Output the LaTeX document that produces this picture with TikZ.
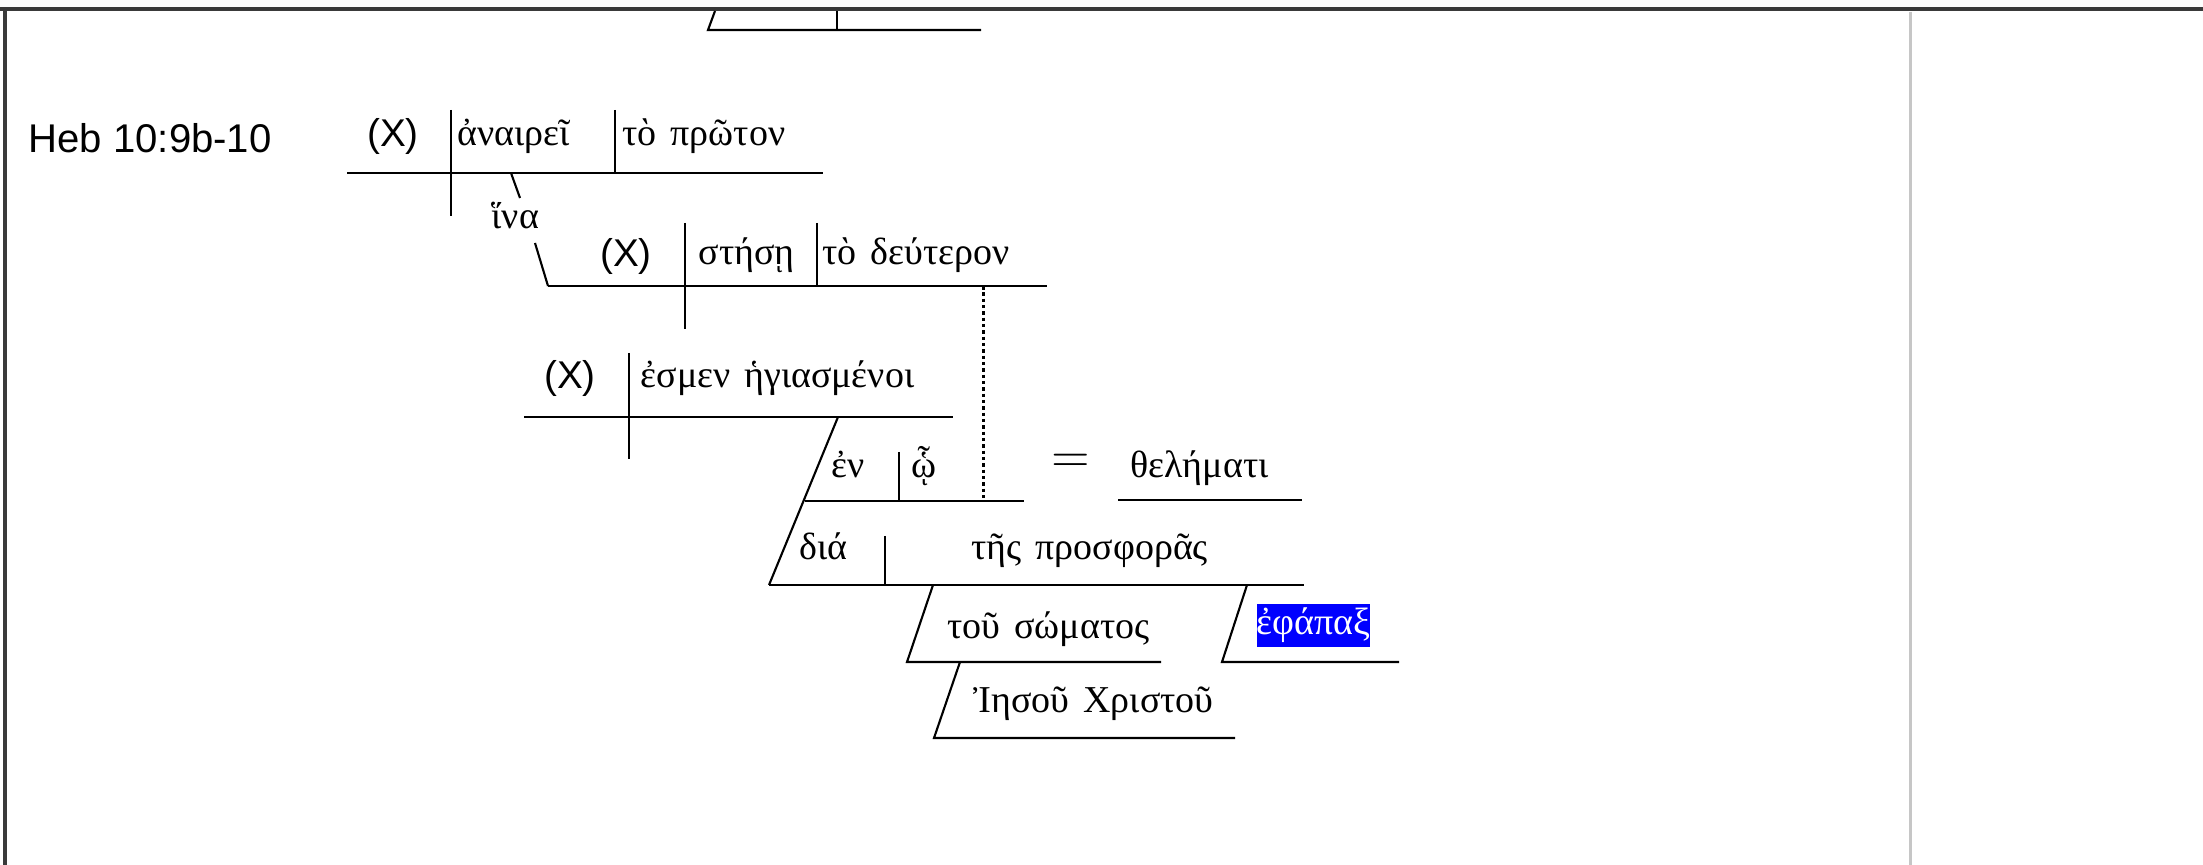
\documentclass[tikz,border=0pt]{standalone}
\usepackage{fontspec}
\setmainfont{Liberation Serif}
\newfontfamily\greekserif[WordSpace=1.45]{Liberation Serif}
\newfontfamily\labelsans{Liberation Sans}
\definecolor{frame}{HTML}{3A3A3A}
\definecolor{sepgray}{HTML}{C6C6C6}
\definecolor{hlblue}{HTML}{0000FF}
\begin{document}
\begin{tikzpicture}[x=0.01cm,y=-0.01cm,
  dline/.style={line width=0.6pt,black},
  dotline/.style={line width=0.85pt,black,dash pattern=on 1pt off 0.8pt},
  gk/.style={inner sep=0pt,anchor=base west,font=\greekserif\fontsize{10.8}{12}\selectfont},
  xsub/.style={inner sep=0pt,anchor=base,font=\labelsans\fontsize{11}{13}\selectfont},
  reflabel/.style={inner sep=0pt,anchor=base west,font=\labelsans\fontsize{11.4}{13}\selectfont},
  hlbox/.style={fill=hlblue,text=white,inner sep=0pt,minimum width=1.11cm,minimum height=0.43cm,font=\greekserif\fontsize{10.8}{12}\selectfont}]
\useasboundingbox (0,0) rectangle (2203,865);
% frame
\draw[frame,line width=1.3pt] (0,9) -- (2203,9);
\draw[frame,line width=1.3pt] (5,9) -- (5,865);
\draw[sepgray,line width=0.85pt] (1910,12) -- (1910,865);
% top fragment
\coordinate (f1) at (715,11); \coordinate (f2) at (708,30); \coordinate (f3) at (981,30);
\coordinate (f4) at (837,11); \coordinate (f5) at (837,30);
\draw[dline] (f1) -- (f2) -- (f3);
\draw[dline] (f4) -- (f5);
% label
\node[reflabel] (lab) at (28,153) {Heb 10:9b-10};
% clause 1
\coordinate (a1) at (347,173); \coordinate (a2) at (823,173);
\coordinate (a3) at (451,110); \coordinate (a4) at (451,216);
\coordinate (a5) at (615,110); \coordinate (a6) at (615,173);
\draw[dline] (a1) -- (a2);
\draw[dline] (a3) -- (a4);
\draw[dline] (a5) -- (a6);
\node[xsub] (x1) at (393,147) {(X)};
\node[gk] (v1) at (457,146) {ἀναιρεῖ};
\node[gk] (o1) at (622,146) {τὸ πρῶτον};
% hina connector
\coordinate (h1) at (511,173); \coordinate (h2) at (520,198);
\coordinate (h3) at (535,243); \coordinate (h4) at (548,286);
\draw[dline] (h1) -- (h2);
\draw[dline] (h3) -- (h4);
\node[gk] (hina) at (491,229) {ἵνα};
% clause 2
\coordinate (b1) at (548,286); \coordinate (b2) at (1047,286);
\coordinate (b3) at (685,223); \coordinate (b4) at (685,329);
\coordinate (b5) at (817,223); \coordinate (b6) at (817,286);
\draw[dline] (b1) -- (b2);
\draw[dline] (b3) -- (b4);
\draw[dline] (b5) -- (b6);
\node[xsub] (x2) at (626,267) {(X)};
\node[gk] (v2) at (698,265) {στήσῃ};
\node[gk] (o2) at (822,265) {τὸ δεύτερον};
% dotted relative link
\coordinate (d1) at (983,286); \coordinate (d2) at (983,501);
\draw[dotline] (d1) -- (d2);
% clause 3
\coordinate (c1) at (524,417); \coordinate (c2) at (953,417);
\coordinate (c3) at (629,353); \coordinate (c4) at (629,459);
\draw[dline] (c1) -- (c2);
\draw[dline] (c3) -- (c4);
\node[xsub] (x3) at (570,389) {(X)};
\node[gk] (v3) at (640,388) {ἐσμεν ἡγιασμένοι};
% slanted modifier line
\coordinate (s1) at (838,417); \coordinate (s2) at (769,585);
\draw[dline] (s1) -- (s2);
% en ho
\coordinate (e1) at (805,501); \coordinate (e2) at (1024,501);
\coordinate (e3) at (899,452); \coordinate (e4) at (899,501);
\draw[dline] (e1) -- (e2);
\draw[dline] (e3) -- (e4);
\node[gk] (en) at (831,478) {ἐν};
\node[gk] (ho) at (911,478) {ᾧ};
\node[inner sep=0pt,anchor=base,font=\fontsize{14}{16}\selectfont] (eq) at (1071,473) {$=$};
\node[gk] (thel) at (1130,478) {θελήματι};
\coordinate (t1) at (1118,500); \coordinate (t2) at (1302,500);
\draw[dline] (t1) -- (t2);
% dia
\coordinate (g1) at (769,585); \coordinate (g2) at (1304,585);
\coordinate (g3) at (885,536); \coordinate (g4) at (885,585);
\draw[dline] (g1) -- (g2);
\draw[dline] (g3) -- (g4);
\node[gk] (dia) at (799,560) {διά};
\node[gk] (pros) at (971,560) {τῆς προσφορᾶς};
% tou somatos
\coordinate (k1) at (933,585); \coordinate (k2) at (907,662); \coordinate (k3) at (1161,662);
\draw[dline] (k1) -- (k2) -- (k3);
\node[gk] (som) at (947,639) {τοῦ σώματος};
% ephapax
\coordinate (m1) at (1247,585); \coordinate (m2) at (1222,662); \coordinate (m3) at (1399,662);
\draw[dline] (m1) -- (m2) -- (m3);
\node[hlbox] (eph) at (1313.5,625.5) {ἐφάπαξ};
% Iesou Christou
\coordinate (j1) at (960,662); \coordinate (j2) at (934,738); \coordinate (j3) at (1235,738);
\draw[dline] (j1) -- (j2) -- (j3);
\node[gk] (ies) at (973,713) {Ἰησοῦ Χριστοῦ};
\end{tikzpicture}
\end{document}
